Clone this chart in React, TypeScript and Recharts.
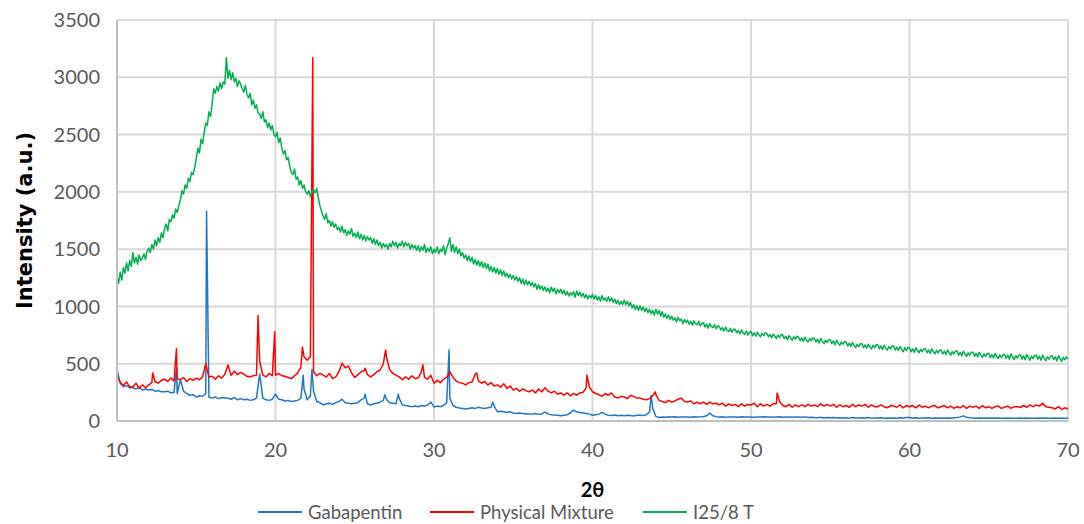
import React from "react"
import {
  LineChart,
  Line,
  XAxis,
  YAxis,
  CartesianGrid,
  Legend,
} from "recharts"

// All scans start at 10°; step differs per scan
const START_ANGLE = 10

// I25/8 T – amorphous halo, one value every 0.1°
const i25Base = [
  1270, 1200, 1300, 1230, 1340, 1290, 1380, 1310, 1400, 1350,
  1470, 1380, 1430, 1370, 1450, 1400, 1420, 1460, 1410, 1480,
  1510, 1470, 1540, 1500, 1580, 1530, 1600, 1560, 1640, 1600,
  1680, 1720, 1660, 1760, 1740, 1800, 1770, 1850, 1820, 1880,
  1930, 2010, 1980, 2060, 2030, 2120, 2090, 2170, 2150, 2210,
  2290, 2380, 2340, 2460, 2420, 2520, 2600, 2580, 2700, 2660,
  2760, 2900, 2860, 2920, 2880, 2950, 2900, 2960, 2940, 3170,
  2990, 3060, 2980, 3040, 2960, 2990, 2920, 2970, 2940, 2900,
  2870, 2930, 2850, 2820, 2860, 2760, 2800, 2730, 2760, 2690,
  2680, 2640, 2700, 2610, 2630, 2560, 2600, 2540, 2580, 2500,
  2480, 2520, 2430, 2470, 2380, 2330, 2360, 2280, 2300, 2220,
  2170, 2150, 2200, 2110, 2130, 2060, 2100, 2030, 2060, 2000,
  1980, 2010, 1960, 2000, 2020, 1990, 2030, 1950, 1880, 1830,
  1790, 1760, 1810, 1730, 1750, 1700, 1740, 1690, 1720, 1670,
  1690, 1650, 1700, 1640, 1670, 1620, 1660, 1630, 1680, 1610,
  1640, 1600, 1650, 1590, 1630, 1580, 1620, 1570, 1610, 1580,
  1600, 1550, 1590, 1540, 1580, 1530, 1560, 1510, 1550, 1520,
  1540, 1500, 1550, 1520, 1570, 1530, 1560, 1510, 1550, 1530,
  1570, 1520, 1560, 1530, 1550, 1500, 1540, 1510, 1530, 1490,
  1530, 1480, 1520, 1490, 1540, 1470, 1510, 1480, 1520, 1460,
  1500, 1470, 1520, 1460, 1500, 1480, 1530, 1450, 1510, 1550,
  1600, 1480, 1540, 1470, 1520, 1460, 1500, 1440, 1470, 1420,
  1450, 1400, 1440, 1390, 1430, 1370, 1410, 1360, 1400, 1350,
  1390, 1340, 1380, 1330, 1370, 1310, 1350, 1300, 1340, 1290,
  1330, 1280, 1320, 1270, 1310, 1260, 1290, 1250, 1280, 1240,
  1270, 1230, 1260, 1220, 1250, 1200, 1240, 1190, 1230, 1190,
  1220, 1180, 1210, 1170, 1200, 1150, 1190, 1150, 1180, 1140,
  1170, 1130, 1160, 1120, 1170, 1130, 1160, 1110, 1150, 1120,
  1150, 1110, 1140, 1100, 1130, 1090, 1120, 1100, 1130, 1080,
  1135, 1095, 1125, 1085, 1115, 1075, 1105, 1065, 1095, 1075,
  1105, 1065, 1095, 1055, 1085, 1045, 1095, 1055, 1075, 1045,
  1085, 1045, 1075, 1035, 1065, 1025, 1055, 1015, 1045, 1015,
  1055, 1015, 1045, 1005, 1035, 985, 1015, 975, 1005, 965,
  1005, 965, 995, 955, 985, 945, 975, 935, 965, 925,
  975, 935, 965, 915, 955, 905, 935, 895, 925, 885,
  915, 880, 900, 865, 905, 875, 890, 850, 885, 860,
  880, 845, 870, 835, 875, 850, 840, 870, 830, 855,
  855, 820, 845, 810, 850, 825, 815, 840, 805, 830,
  825, 795, 815, 785, 820, 790, 780, 810, 775, 800,
  800, 770, 790, 760, 795, 770, 755, 785, 750, 775,
  780, 745, 770, 740, 775, 750, 735, 765, 745, 770,
  765, 735, 755, 725, 760, 740, 720, 750, 730, 755,
  750, 720, 740, 710, 745, 725, 705, 735, 715, 740,
  730, 700, 725, 695, 730, 705, 690, 720, 700, 725,
  720, 690, 715, 680, 720, 695, 675, 705, 685, 710,
  710, 675, 700, 665, 705, 680, 660, 690, 670, 695,
  690, 655, 680, 650, 685, 660, 640, 670, 650, 675,
  675, 640, 665, 635, 670, 645, 630, 660, 640, 665,
  665, 630, 655, 625, 660, 635, 620, 650, 630, 655,
  655, 620, 645, 615, 650, 625, 605, 640, 615, 645,
  640, 605, 630, 600, 640, 615, 595, 625, 605, 630,
  630, 595, 620, 590, 630, 605, 585, 615, 595, 620,
  620, 585, 610, 580, 620, 595, 575, 605, 585, 610,
  610, 575, 600, 570, 610, 585, 565, 595, 575, 600,
  600, 565, 590, 560, 600, 575, 555, 585, 565, 590,
  590, 555, 580, 550, 590, 565, 545, 575, 555, 580,
  580, 545, 575, 540, 585, 560, 535, 570, 550, 575,
  575, 540, 570, 535, 580, 555, 530, 565, 545, 570,
  575, 540, 565, 530, 575, 550, 525, 560, 540, 565,
  570, 535, 560, 525, 570, 545, 520, 555, 535, 560,
  540,
]

// Physical mixture, one value every 0.2°
const mixBase = [
  390, 340, 310, 340, 300,
  300, 330, 285, 315, 290,
  315, 335, 345, 330, 355,
  365, 345, 375, 350, 370,
  360, 380, 345, 370, 355,
  375, 360, 385, 370, 385,
  390, 365, 395, 375, 405,
  490, 400, 435, 405, 425,
  410, 390, 385, 395, 400,
  520, 400, 385, 415, 395,
  400, 415, 395, 390, 380,
  370, 395, 420, 470, 560,
  530, 560, 430, 395, 415,
  400, 385, 415, 370, 385,
  430, 500, 465, 480, 420,
  380, 405, 430, 440, 405,
  385, 405, 430, 445, 500,
  560, 450, 415, 400, 385,
  360, 385, 365, 395, 370,
  375, 430, 380, 365, 400,
  330, 355, 335, 365, 380,
  430, 380, 350, 335, 330,
  315, 335, 340, 410, 350,
  330, 345, 315, 335, 305,
  315, 295, 325, 285, 305,
  270, 285, 260, 280, 265,
  255, 270, 245, 280, 255,
  290, 260, 245, 260, 235,
  245, 225, 245, 220, 240,
  225, 245, 250, 290, 300,
  255, 240, 230, 215, 240,
  225, 245, 210, 200, 215,
  210, 195, 225, 215, 200,
  200, 190, 185, 195, 220,
  230, 180, 170, 160, 180,
  165, 175, 190, 200, 170,
  165, 175, 150, 165, 150,
  165, 145, 165, 150, 155,
  140, 155, 130, 150, 135,
  145, 125, 150, 130, 145,
  140, 155, 125, 150, 130,
  145, 130, 150, 150, 170,
  135, 125, 145, 120, 140,
  125, 140, 125, 145, 130,
  140, 125, 150, 130, 145,
  130, 145, 120, 140, 125,
  135, 120, 145, 125, 140,
  130, 145, 120, 140, 125,
  125, 140, 125, 115, 135,
  130, 120, 140, 115, 135,
  125, 135, 115, 140, 120,
  130, 115, 130, 135, 115,
  125, 135, 115, 130, 110,
  125, 115, 135, 110, 130,
  120, 130, 110, 135, 115,
  125, 110, 125, 130, 110,
  120, 130, 110, 125, 125,
  120, 135, 120, 140, 125,
  140, 130, 155, 125, 120,
  115, 105, 125, 100, 115,
  105,
]
const mixPeaks: [number, number][] = [
  [12.25, 420],
  [13.75, 630],
  [15.6, 500],
  [18.9, 920],
  [19.95, 780],
  [21.7, 645],
  [22.35, 3170],
  [24.2, 505],
  [25.65, 460],
  [26.95, 620],
  [29.3, 490],
  [32.7, 420],
  [39.65, 400],
  [43.95, 255],
  [51.65, 245],
]

// Gabapentin, one value every 0.2°
const gabaBase = [
  450, 330, 300, 310, 290,
  290, 280, 295, 270, 280,
  270, 275, 260, 265, 255,
  255, 260, 245, 250, 240,
  360, 260, 240, 225, 230,
  210, 220, 215, 240, 210,
  200, 210, 195, 205, 200,
  200, 190, 205, 185, 195,
  185, 190, 180, 185, 200,
  410, 200, 185, 180, 190,
  235, 190, 185, 175, 180,
  170, 175, 180, 200, 280,
  185, 220, 260, 170, 160,
  140, 150, 155, 145, 160,
  170, 190, 160, 155, 150,
  155, 160, 185, 200, 150,
  140, 150, 155, 165, 180,
  190, 160, 155, 150, 200,
  140, 135, 130, 125, 130,
  125, 135, 130, 140, 165,
  123, 130, 125, 135, 160,
  200, 135, 120, 113, 110,
  105, 110, 115, 110, 120,
  113, 110, 115, 120, 130,
  80, 85, 80, 75, 80,
  70, 65, 70, 65, 62,
  62, 60, 65, 58, 62,
  78, 60, 55, 52, 50,
  45, 50, 55, 70, 95,
  80, 75, 70, 65, 60,
  50, 55, 60, 75, 60,
  50, 48, 52, 46, 50,
  45, 50, 48, 44, 50,
  50, 48, 55, 80, 110,
  40, 30, 35, 32, 38,
  35, 38, 33, 36, 34,
  35, 32, 38, 34, 36,
  40, 45, 70, 45, 38,
  35, 38, 33, 36, 35,
  35, 33, 38, 34, 36,
  35, 32, 36, 34, 38,
  34, 36, 32, 35, 38,
  33, 36, 34, 32, 35,
  34, 32, 36, 30, 33,
  30, 28, 32, 27, 30,
  28, 30, 26, 29, 27,
  28, 25, 30, 27, 26,
  28, 26, 30, 25, 27,
  26, 28, 25, 27, 24,
  27, 25, 28, 26, 30,
  30, 26, 28, 24, 27,
  26, 28, 25, 27, 24,
  26, 24, 27, 25, 28,
  30, 36, 45, 32, 28,
  26, 24, 27, 25, 26,
  24, 27, 23, 26, 25,
  24, 26, 23, 25, 24,
  26, 24, 27, 25, 23,
  25, 27, 24, 26, 25,
  24, 26, 23, 25, 24,
  23,
]
const gabaPeaks: [number, number][] = [
  [13.75, 460],
  [15.65, 1830],
  [21.75, 400],
  [22.3, 450],
  [25.65, 235],
  [26.9, 230],
  [27.75, 235],
  [30.95, 620],
  [33.7, 165],
  [43.7, 225],
]

const X_TICKS = [10, 20, 30, 40, 50, 60, 70]
const Y_TICKS = [0, 500, 1000, 1500, 2000, 2500, 3000, 3500]

const SERIES = [
  { name: "Gabapentin", color: "#1f77c4", base: gabaBase, step: 0.2, peaks: gabaPeaks },
  { name: "Physical Mixture", color: "#ff0000", base: mixBase, step: 0.2, peaks: mixPeaks },
  { name: "I25/8 T", color: "#00b050", base: i25Base, step: 0.1, peaks: [] as [number, number][] },
]

// merge the regular scan with the sharp reflections, sorted by angle
function buildRows(base: number[], step: number, peaks: [number, number][]) {
  const byAngle = new Map<number, number>()
  base.forEach((v, i) => byAngle.set(Math.round((START_ANGLE + i * step) * 100), v))
  peaks.forEach(([a, v]) => byAngle.set(Math.round(a * 100), v))
  return [...byAngle.entries()]
    .sort((a, b) => a[0] - b[0])
    .map(([k, v]) => ({ angle: k / 100, intensity: v }))
}

const FONT = "Lato, 'Open Sans', sans-serif"
const LEGEND_LEFT = [258, 430, 643]

function LegendBox() {
  return (
    <div style={{ position: "relative", width: 1084, height: 24, fontFamily: FONT }}>
      {SERIES.map((s, i) => (
        <div
          key={s.name}
          style={{
            position: "absolute",
            left: LEGEND_LEFT[i],
            top: 0,
            height: 24,
            display: "flex",
            alignItems: "center",
            whiteSpace: "nowrap",
          }}
        >
          <div style={{ width: 44, height: 2, background: s.color, marginRight: 6 }} />
          <span style={{ fontSize: 18.5, color: "#595959" }}>{s.name}</span>
        </div>
      ))}
    </div>
  )
}

export default function App() {
  return (
    <div style={{ position: "absolute", left: 0, top: 0, background: "#fff" }}>
      <LineChart
        width={1084}
        height={524}
        margin={{ top: 20, right: 16, left: 10, bottom: 0 }}
      >
        <CartesianGrid stroke="#d9d9d9" strokeWidth={2} />
        <XAxis
          type="number"
          dataKey="angle"
          domain={[10, 70]}
          ticks={X_TICKS}
          allowDataOverflow
          height={79}
          tickLine={false}
          tickMargin={16}
          axisLine={{ stroke: "#bfbfbf", strokeWidth: 2 }}
          tick={{ fill: "#595959", fontSize: 20, fontFamily: FONT }}
          label={{
            value: "2θ",
            position: "insideBottom",
            offset: 3,
            style: { fill: "#000", fontSize: 20, fontWeight: 700, fontFamily: FONT },
          }}
        />
        <YAxis
          type="number"
          domain={[0, 3500]}
          ticks={Y_TICKS}
          width={107}
          tickLine={false}
          tickMargin={11}
          axisLine={{ stroke: "#bfbfbf", strokeWidth: 2 }}
          tick={{ fill: "#595959", fontSize: 20, fontFamily: FONT }}
          label={{
            value: "Intensity (a.u.)",
            angle: -90,
            position: "insideLeft",
            offset: 15,
            style: {
              textAnchor: "middle",
              fill: "#000",
              fontSize: 21,
              fontWeight: 700,
              fontFamily: "'DejaVu Sans', sans-serif",
            },
          }}
        />
        {SERIES.map((s) => (
          <Line
            key={s.name}
            name={s.name}
            data={buildRows(s.base, s.step, s.peaks)}
            dataKey="intensity"
            stroke={s.color}
            strokeWidth={1.5}
            strokeLinejoin="round"
            dot={false}
            activeDot={false}
            isAnimationActive={false}
          />
        ))}
        <Legend
          verticalAlign="bottom"
          height={24}
          wrapperStyle={{ left: 0, width: 1084 }}
          content={() => <LegendBox />}
        />
      </LineChart>
    </div>
  )
}
